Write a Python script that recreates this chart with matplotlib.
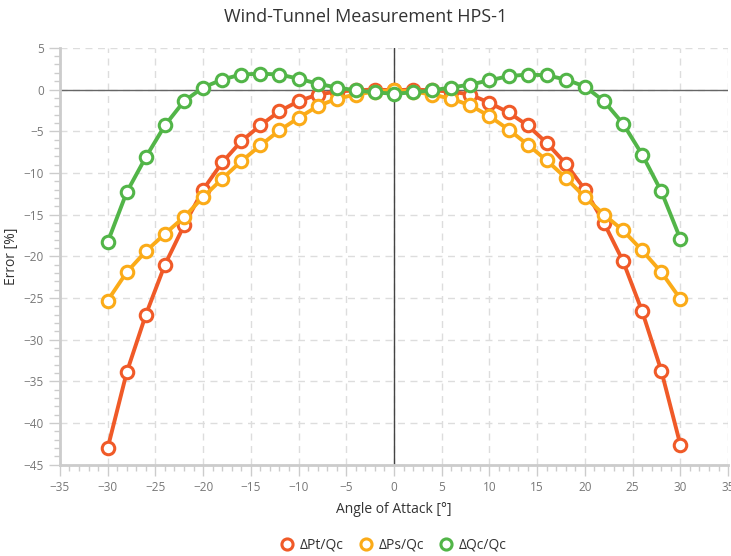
import numpy as np
import matplotlib.pyplot as plt
from matplotlib.ticker import MultipleLocator

# angle of attack [deg]
angle = list(range(-30, 31, 2))

# errors in percent
pt_qc = [-43.0, -33.9, -27.0, -21.0, -16.3, -12.0, -8.75, -6.2, -4.3, -2.6, -1.4, -0.6, -0.25, -0.1, 0.0,
         -0.1, 0.0, -0.1, -0.25, -0.6, -1.6, -2.75, -4.3, -6.4, -8.9, -12.0, -16.0, -20.6, -26.6, -33.7, -42.6]
ps_qc = [-25.3, -21.9, -19.4, -17.3, -15.3, -12.9, -10.7, -8.6, -6.7, -4.9, -3.4, -2.0, -1.1, -0.6, -0.25,
         -0.1, -0.25, -0.6, -1.1, -1.9, -3.2, -4.8, -6.6, -8.5, -10.6, -12.9, -15.0, -16.9, -19.3, -21.9, -25.1]
qc_qc = [-18.3, -12.3, -8.1, -4.3, -1.4, 0.24, 1.2, 1.8, 1.9, 1.8, 1.3, 0.7, 0.24, -0.1, -0.35,
         -0.5, -0.35, -0.1, 0.24, 0.6, 1.1, 1.6, 1.8, 1.7, 1.2, 0.36, -1.4, -4.1, -7.8, -12.2, -17.9]

series = [("ΔPt/Qc", pt_qc, "#f05a28"),
          ("ΔPs/Qc", ps_qc, "#fbab18"),
          ("ΔQc/Qc", qc_qc, "#52b548")]

plt.rcParams['font.family'] = ['Open Sans', 'DejaVu Sans']

fig = plt.figure(figsize=(7.31, 5.56), dpi=100)
ax = fig.add_axes([0.082, 0.164, 0.914, 0.75])

for name, vals, col in series:
    ax.plot(angle, vals, color=col, lw=2.8, marker='o', ms=9, mfc='white',
            mec=col, mew=2.2, label=name, zorder=3)

ax.axhline(0, color='#666666', lw=1.0, zorder=2)
ax.axvline(0, color='#444444', lw=1.0, zorder=2)

ax.set_xlim(-35, 35)
ax.set_ylim(-45, 5)
ax.xaxis.set_major_locator(MultipleLocator(5))
ax.xaxis.set_minor_locator(MultipleLocator(1))
ax.yaxis.set_major_locator(MultipleLocator(5))
ax.yaxis.set_minor_locator(MultipleLocator(1))
ax.grid(True, which='major', color='#dddddd', ls=(0, (5, 4)), lw=1.0, zorder=0)

for s in ['top', 'right']:
    ax.spines[s].set_visible(False)
for s in ['left', 'bottom']:
    ax.spines[s].set_color('#cccccc')
    ax.spines[s].set_linewidth(2)

ax.tick_params(which='major', length=8, width=1, color='#cccccc', labelcolor='#777777', labelsize=8.5)
ax.tick_params(which='minor', length=4, width=1, color='#cccccc')

ax.set_xlabel("Angle of Attack [°]", fontsize=10, color='#333333', labelpad=6)
ax.set_ylabel("Error [%]", fontsize=10, color='#333333')
ax.yaxis.set_label_coords(-0.062, 0.5)
fig.suptitle("Wind-Tunnel Measurement HPS-1", fontsize=13, color='#333333', y=0.985)

ax.legend(loc='upper center', bbox_to_anchor=(0.5, -0.145), ncol=3, frameon=False,
          fontsize=10, handlelength=0.8, handletextpad=0.5, columnspacing=1.2,
          labelcolor='#333333')
leg = ax.get_legend()
for h in leg.get_lines():
    h.set_linestyle('none')
    h.set_markersize(8)

fig.savefig("out.png", dpi=100)
